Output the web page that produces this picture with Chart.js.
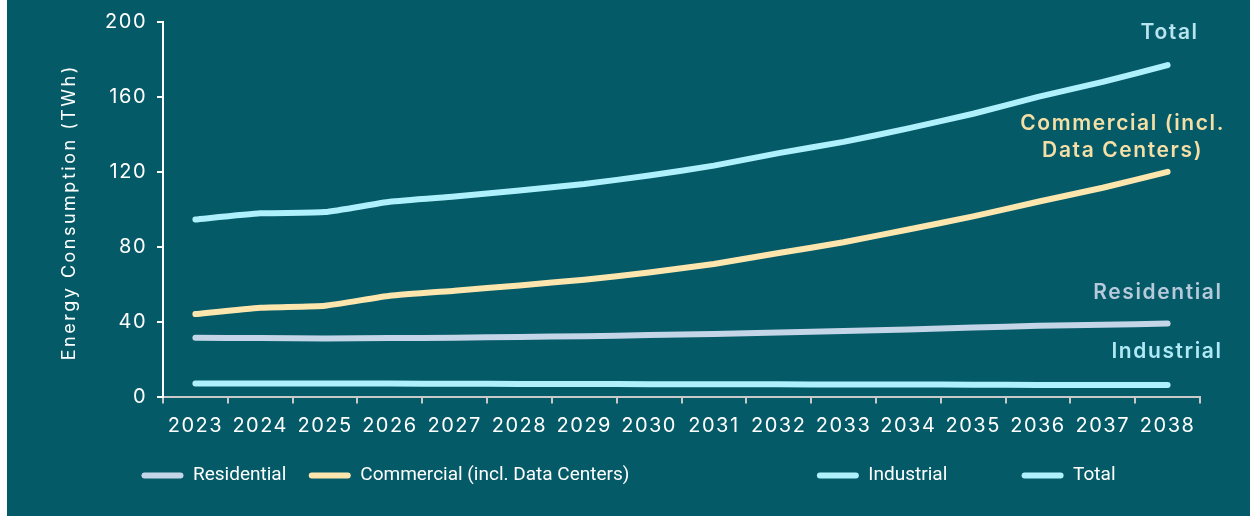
<!DOCTYPE html>
<html>
<head>
<meta charset="utf-8">
<script src="https://cdn.jsdelivr.net/npm/chart.js@4.4.0/dist/chart.umd.min.js"></script>
<style>
  html, body { margin: 0; padding: 0; background: #ffffff; }
  #wrap { position: absolute; left: 7px; top: 0; width: 1243px; height: 516px; background: #055a68; }
</style>
</head>
<body>
<div id="wrap"><canvas id="myChart" width="1243" height="516"></canvas></div>
<script>
const years = ['2023', '2024', '2025', '2026', '2027', '2028', '2029', '2030',
  '2031', '2032', '2033', '2034', '2035', '2036', '2037', '2038'];

const residential = [31.4, 31.2, 31, 31.2, 31.4, 31.8, 32.2, 32.8, 33.4, 34.2, 35, 35.8, 36.8, 37.8, 38.3, 39];
const commercial = [44, 47.4, 48.5, 53.8, 56.5, 59.3, 62.4, 66.2, 70.8, 76.6, 82.4, 89.2, 96.2, 104, 111.5, 120];
const industrial = [7, 6.9, 6.9, 6.9, 6.8, 6.7, 6.7, 6.6, 6.6, 6.5, 6.4, 6.4, 6.3, 6.2, 6.2, 6.1];
const total = [94.5, 97.8, 98.5, 104, 106.8, 110, 113.5, 118, 123.3, 130, 136, 143.2, 151, 160, 168, 177];

const seriesNames = ['Residential', 'Commercial (incl. Data Centers)', 'Industrial', 'Total'];
const lineColors = ['#c3d5e6', '#fde6ae', '#aef0fc', '#aef0fc'];
// extra room after some legend entries (spaces) to match the uneven legend spacing
const legendPad = [0, 35, 11, 0];

// end-of-line labels
const endLabels = [
  { lines: ['Residential'], color: '#b6cadb', align: 'right', dx: 55, dy: -31 },
  { lines: ['Commercial (incl.', 'Data Centers)'], color: '#f5dfa6', align: 'center', dx: -45, dy: -48 },
  { lines: ['Industrial'], color: '#aee9f5', align: 'right', dx: 55, dy: -33 },
  { lines: ['Total'], color: '#b8e4ef', align: 'center', dx: 2, dy: -32 }
];

const textPlugin = {
  id: 'textBits',
  beforeDraw(chart) {
    chart.ctx.letterSpacing = '0px';
  },
  afterDatasetsDraw(chart) {
    const ctx = chart.ctx;
    ctx.save();
    ctx.letterSpacing = '1.6px';
    ctx.font = '600 21px Inter';
    ctx.textBaseline = 'middle';
    endLabels.forEach((lab, i) => {
      const meta = chart.getDatasetMeta(i);
      const pt = meta.data[meta.data.length - 1];
      ctx.fillStyle = lab.color;
      ctx.textAlign = lab.align;
      lab.lines.forEach((t, j) => {
        ctx.fillText(t, pt.x + lab.dx, pt.y + lab.dy + j * 27);
      });
    });
    ctx.restore();
    // tick labels (z = 1) are drawn next, slightly spaced
    ctx.letterSpacing = '1.5px';
  },
  afterDraw(chart) {
    const ctx = chart.ctx;
    const area = chart.chartArea;
    ctx.save();
    ctx.letterSpacing = '2.5px';
    ctx.font = '18px Inter';
    ctx.fillStyle = '#ffffff';
    ctx.textAlign = 'center';
    ctx.textBaseline = 'middle';
    ctx.translate(63, (area.top + area.bottom) / 2 + 3);
    ctx.rotate(-Math.PI / 2);
    ctx.fillText('Energy Consumption (TWh)', 0, 0);
    ctx.restore();
    ctx.letterSpacing = '0px';
  }
};

const data = [residential, commercial, industrial, total];

const ctx = document.getElementById('myChart').getContext('2d');
const myChart = new Chart(ctx, {
  type: 'line',
  data: {
    labels: years,
    datasets: data.map((d, i) => ({
      label: seriesNames[i],
      data: d,
      borderColor: lineColors[i],
      backgroundColor: lineColors[i],
      borderWidth: 6,
      borderCapStyle: 'round',
      borderJoinStyle: 'round',
      pointRadius: 0,
      tension: 0.15
    }))
  },
  options: {
    responsive: false,
    animation: false,
    layout: { padding: { top: 15, right: 0, bottom: 21, left: 0 } },
    plugins: {
      tooltip: { enabled: false },
      legend: {
        position: 'bottom',
        labels: {
          color: '#ffffff',
          font: { family: 'Roboto', size: 19 },
          boxWidth: 42,
          boxHeight: 6,
          useBorderRadius: true,
          borderRadius: 3,
          padding: 22.5,
          generateLabels(chart) {
            return chart.data.datasets.map((ds, i) => ({
              text: ds.label + ' '.repeat(legendPad[i]),
              fillStyle: ds.borderColor,
              strokeStyle: ds.borderColor,
              lineWidth: 0,
              fontColor: '#ffffff',
              hidden: false,
              datasetIndex: i,
              borderRadius: 3
            }));
          }
        }
      }
    },
    scales: {
      x: {
        offset: true,
        grid: {
          offset: true,
          drawOnChartArea: false,
          drawTicks: true,
          tickLength: 7,
          color: '#c9c9c9',
          lineWidth: 2
        },
        border: { color: '#c9c9c9', width: 2 },
        ticks: {
          z: 1,
          color: '#ffffff',
          font: { family: 'Inter', size: 20 },
          padding: 10,
          maxRotation: 0,
          autoSkip: false
        },
        afterFit(s) { s.height = 47; }
      },
      y: {
        min: 0,
        max: 200,
        ticks: {
          z: 1,
          stepSize: 40,
          color: '#ffffff',
          font: { family: 'Inter', size: 20 },
          padding: 10
        },
        grid: {
          drawOnChartArea: false,
          drawTicks: true,
          tickLength: 6,
          color: '#ffffff',
          lineWidth: 2
        },
        border: { color: '#ffffff', width: 2 },
        afterFit(s) { s.width = 156; }
      },
      // empty right margin, keeps the legend centred on the whole canvas
      yRight: {
        position: 'right',
        grid: { display: false, drawTicks: false },
        border: { display: false },
        ticks: { display: false },
        afterFit(s) { s.width = 50; }
      }
    }
  },
  plugins: [textPlugin]
});
</script>
</body>
</html>
